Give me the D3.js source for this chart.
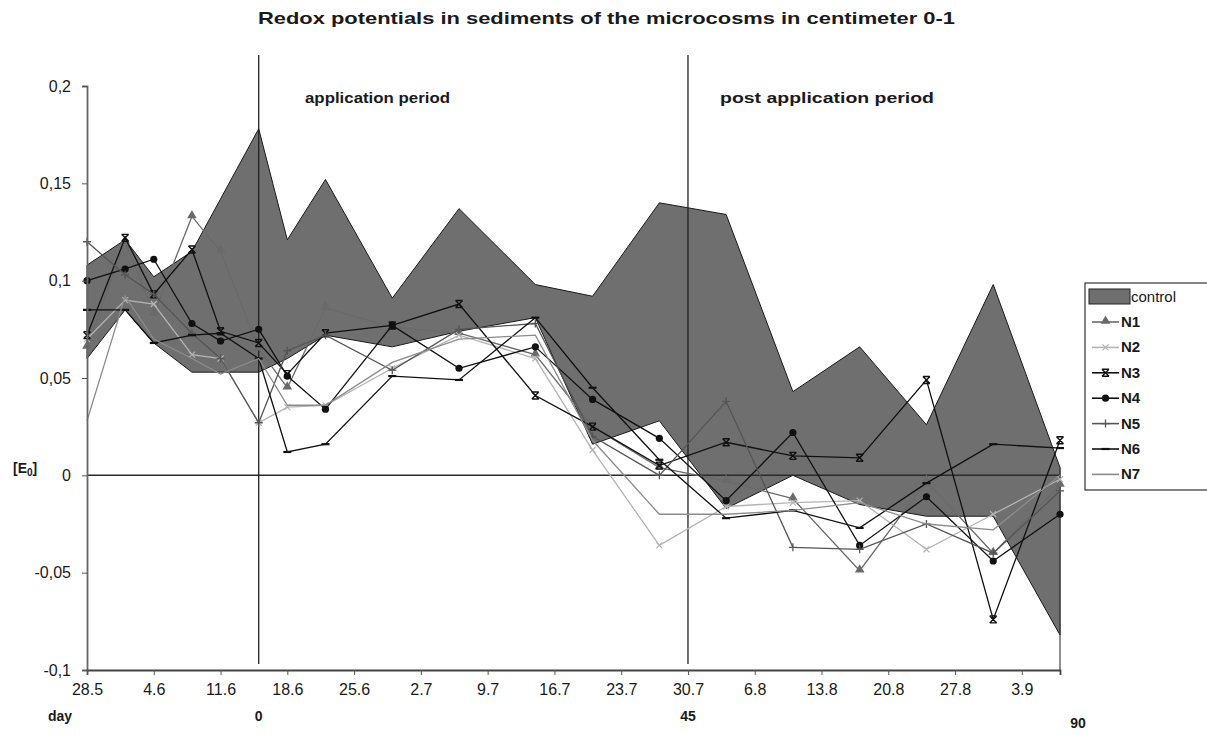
<!DOCTYPE html>
<html>
<head>
<meta charset="utf-8">
<script src="https://cdn.jsdelivr.net/npm/d3@7"></script>
<style>
  body { margin: 0; background: #fff; }
  text { font-family: "Liberation Sans", Arial, sans-serif; fill: #1a1a1a; }
</style>
</head>
<body>
<svg id="chart" width="1207" height="735"></svg>
<script>
// sampling days, counted from the start of the application (15.6 = day 0)
var days = [-18,-14,-11,-7,-4,0,3,7,14,21,29,35,42,49,56,63,70,77,84];

// control: band between lower and upper values
var controlUpper = [0.108,0.121,0.102,0.115,0.142,0.178,0.121,0.152,0.091,0.137,0.098,0.092,0.140,0.134,0.043,0.066,0.026,0.098,0.004];
var controlLower = [0.060,0.085,0.068,0.053,0.053,0.053,0.060,0.072,0.066,0.074,0.081,0.016,0.028,-0.017,0.000,-0.015,-0.021,-0.021,-0.082];

var n1 = [0.066,0.120,0.083,0.133,0.115,0.065,0.045,0.086,0.076,0.073,0.062,0.025,0.004,-0.003,-0.012,-0.049,-0.003,-0.040,-0.005];
var n2 = [0.070,0.090,0.088,0.062,0.060,0.027,0.035,0.036,0.055,0.072,0.060,0.013,-0.036,-0.016,-0.014,-0.013,-0.038,-0.020,-0.002];
var n3 = [0.072,0.122,0.093,0.116,0.074,0.068,0.052,0.073,0.077,0.088,0.041,0.025,0.005,0.017,0.010,0.009,0.049,-0.074,0.018];
var n4 = [0.100,0.106,0.111,0.078,0.069,0.075,0.051,0.034,0.077,0.055,0.066,0.039,0.019,-0.013,0.022,-0.036,-0.011,-0.044,-0.020];
var n5 = [0.120,0.103,0.093,0.073,0.060,0.027,0.064,0.072,0.054,0.075,0.078,0.020,0.000,0.038,-0.037,-0.038,-0.025,-0.040,-0.008];
var n6 = [0.085,0.085,0.068,0.072,0.073,0.060,0.012,0.016,0.051,0.049,0.081,0.045,0.008,-0.022,-0.018,-0.027,-0.004,0.016,0.014];
var n7 = [0.028,0.092,0.070,0.060,0.052,0.060,0.036,0.036,0.058,0.070,0.072,0.018,-0.020,-0.020,-0.018,-0.014,-0.025,-0.028,0.000];

var seriesNames = ["N1","N2","N3","N4","N5","N6","N7"];
var tickDays = [-18,-11,-4,3,10,17,24,31,38,45,52,59,66,73,80];
var tickLabels = ["28.5","4.6","11.6","18.6","25.6","2.7","9.7","16.7","23.7","30.7","6.8","13.8","20.8","27.8","3.9"];
var yTicks = [0.2,0.15,0.1,0.05,0,-0.05,-0.1];
var periodDays = [0,45];

var svg = d3.select("#chart");
var x = d3.scaleLinear().domain([-18,84]).range([87,1060]);
var y = d3.scaleLinear().domain([-0.1,0.2]).range([670,86]);

// marker drawers
var triangle = d3.symbol().type(d3.symbolTriangle).size(40);
var styles = [
  {stroke:"#6a6a6a", mark:"tri"},
  {stroke:"#b4b4b4", mark:"x"},
  {stroke:"#111", mark:"star"},
  {stroke:"#111", mark:"dot"},
  {stroke:"#555", mark:"plus"},
  {stroke:"#111", mark:"dash"},
  {stroke:"#8c8c8c", mark:"none"}
];
function drawMark(g, kind, cx, cy, col){
  if(kind=="tri") g.append("path").attr("d",triangle()).attr("transform","translate("+cx+","+(cy-1)+")").attr("fill",col);
  else if(kind=="dot") g.append("circle").attr("cx",cx).attr("cy",cy).attr("r",3.6).attr("fill",col);
  else if(kind=="x") g.append("path").attr("d","M"+(cx-3)+","+(cy-3)+"L"+(cx+3)+","+(cy+3)+"M"+(cx-3)+","+(cy+3)+"L"+(cx+3)+","+(cy-3))
        .attr("stroke",col).attr("stroke-width",1.2);
  else if(kind=="star") g.append("path").attr("d","M"+(cx-3.5)+","+(cy-3.5)+"L"+(cx+3.5)+","+(cy+3.5)+"M"+(cx-3.5)+","+(cy+3.5)+"L"+(cx+3.5)+","+(cy-3.5)+"M"+(cx-3.5)+","+(cy-3.5)+"H"+(cx+3.5)+"M"+(cx-3.5)+","+(cy+3.5)+"H"+(cx+3.5))
        .attr("stroke",col).attr("stroke-width",1.4);
  else if(kind=="plus") g.append("path").attr("d","M"+(cx-4)+","+cy+"H"+(cx+4)+"M"+cx+","+(cy-4)+"V"+(cy+4))
        .attr("stroke",col).attr("stroke-width",1.3);
  else if(kind=="dash") g.append("path").attr("d","M"+(cx-4)+","+cy+"H"+(cx+4))
        .attr("stroke",col).attr("stroke-width",2.2);
}

// title
svg.append("text").attr("x",258).attr("y",24)
  .attr("font-size",17).attr("font-weight","bold")
  .attr("textLength",697).attr("lengthAdjust","spacingAndGlyphs")
  .text("Redox potentials in sediments of the microcosms in centimeter 0-1");

// control band
var band = days.map(function(d,i){ return {d:d, lo:controlLower[i], hi:controlUpper[i]}; });
svg.append("path").datum(band)
  .attr("d", d3.area().x(function(p){return x(p.d);}).y0(function(p){return y(p.lo);}).y1(function(p){return y(p.hi);}))
  .attr("fill","#6f6f6f").attr("stroke","#1a1a1a").attr("stroke-width",1);

// right edge of plot area below the band
svg.append("line").attr("x1",x(84)).attr("x2",x(84)).attr("y1",y(-0.1)).attr("y2",y(controlUpper[controlUpper.length-1]))
  .attr("stroke","#444").attr("stroke-width",1.2);

// zero line
svg.append("line").attr("x1",x(-18)).attr("x2",x(84)).attr("y1",y(0)).attr("y2",y(0))
  .attr("stroke","#2a2a2a").attr("stroke-width",1.5);

// period lines
svg.selectAll(".period").data(periodDays).enter().append("line")
  .attr("x1",function(d){return x(d);}).attr("x2",function(d){return x(d);})
  .attr("y1",55).attr("y2",664)
  .attr("stroke","#222").attr("stroke-width",1.3);

svg.append("text").attr("x",305).attr("y",103).attr("font-size",15.5).attr("font-weight","bold")
  .attr("textLength",145).attr("lengthAdjust","spacingAndGlyphs").text("application period");
svg.append("text").attr("x",720).attr("y",103).attr("font-size",15.5).attr("font-weight","bold")
  .attr("textLength",214).attr("lengthAdjust","spacingAndGlyphs").text("post application period");

// series
var all = [n1,n2,n3,n4,n5,n6,n7];
var line = d3.line().x(function(p){return x(p[0]);}).y(function(p){return y(p[1]);});
all.forEach(function(vals,k){
  var pts = days.map(function(d,i){return [d, vals[i]];});
  var g = svg.append("g");
  g.append("path").datum(pts).attr("d",line).attr("fill","none")
    .attr("stroke",styles[k].stroke).attr("stroke-width",1.3);
  pts.forEach(function(p){ drawMark(g, styles[k].mark, x(p[0]), y(p[1]), styles[k].stroke); });
});

// y axis
var yAxis = d3.axisLeft(y).tickValues(yTicks).tickSize(5)
  .tickFormat(function(v){ return String(v).replace(".",","); });
var ya = svg.append("g").attr("transform","translate(87,0)").call(yAxis);
ya.select(".domain").attr("stroke","#666").attr("stroke-width",1.8);
ya.selectAll(".tick line").attr("stroke","#555");
ya.selectAll(".tick text").attr("font-size",16).attr("font-family","Liberation Sans, Arial").attr("fill","#1a1a1a").attr("x",-16);

// x axis
var xAxis = d3.axisBottom(x).tickValues(tickDays).tickSize(5)
  .tickFormat(function(d,i){ return tickLabels[i]; });
var xa = svg.append("g").attr("transform","translate(0,670)").call(xAxis);
xa.select(".domain").attr("stroke","#444").attr("stroke-width",1.8);
xa.selectAll(".tick line").attr("stroke","#555");
xa.selectAll(".tick text").attr("font-size",16).attr("font-family","Liberation Sans, Arial").attr("fill","#1a1a1a").attr("y",14);

// day markers under axis
svg.append("text").attr("x",48).attr("y",721).attr("font-size",14).attr("font-weight","bold").text("day");
svg.append("text").attr("x",x(0)).attr("y",721).attr("font-size",14).attr("font-weight","bold").attr("text-anchor","middle").text("0");
svg.append("text").attr("x",x(45)).attr("y",721).attr("font-size",14).attr("font-weight","bold").attr("text-anchor","middle").text("45");
svg.append("text").attr("x",1078).attr("y",728).attr("font-size",14).attr("font-weight","bold").attr("text-anchor","middle").text("90");

// y label [E0]
var el = svg.append("text").attr("x",13).attr("y",473).attr("font-size",14).attr("font-weight","bold");
el.append("tspan").text("[E");
el.append("tspan").attr("font-size",10).attr("dy",3).text("0");
el.append("tspan").attr("dy",-3).text("]");

// legend
var lg = svg.append("g");
lg.append("rect").attr("x",1085).attr("y",283).attr("width",140).attr("height",207)
  .attr("fill","#fff").attr("stroke","#333").attr("stroke-width",1.2);
lg.append("rect").attr("x",1089).attr("y",289).attr("width",41).attr("height",15)
  .attr("fill","#6f6f6f").attr("stroke","#222");
lg.append("text").attr("x",1131).attr("y",302).attr("font-size",15).text("control");
seriesNames.forEach(function(name,k){
  var cy = 322 + k*25.4;
  lg.append("line").attr("x1",1092).attr("x2",1119).attr("y1",cy).attr("y2",cy)
    .attr("stroke",styles[k].stroke).attr("stroke-width",1.6);
  drawMark(lg, styles[k].mark, 1105.5, cy, styles[k].stroke);
  lg.append("text").attr("x",1121).attr("y",cy+5).attr("font-size",15).attr("font-weight","bold").text(name);
});
</script>
</body>
</html>
